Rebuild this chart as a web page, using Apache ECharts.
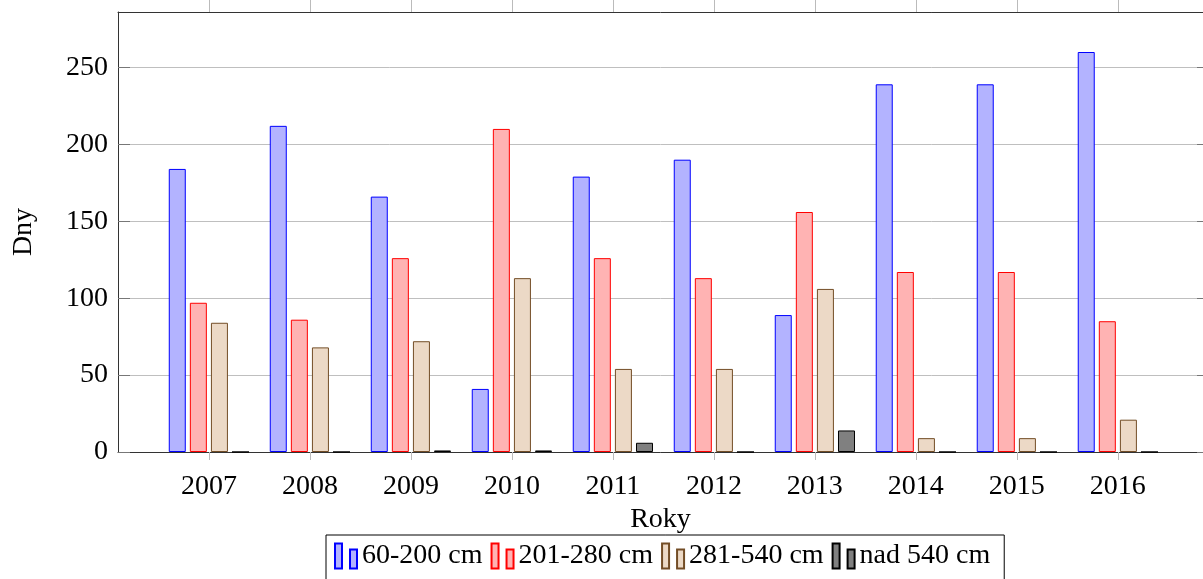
<!DOCTYPE html>
<html>
<head>
<meta charset="utf-8">
<script src="https://cdn.jsdelivr.net/npm/echarts@6/dist/echarts.min.js"></script>
<style>
  html, body { margin: 0; padding: 0; background: #fff; }
  #chart { width: 1203px; height: 579px; }
</style>
</head>
<body>
<div id="chart"></div>
<script>
const years = ["2007", "2008", "2009", "2010", "2011", "2012", "2013", "2014", "2015", "2016"];
const seriesNames = ["60-200 cm", "201-280 cm", "281-540 cm", "nad 540 cm"];
const band60to200 = [184, 212, 166, 41, 179, 190, 89, 239, 239, 260];
const band201to280 = [97, 86, 126, 210, 126, 113, 156, 117, 117, 85];
const band281to540 = [84, 68, 72, 113, 54, 54, 106, 9, 9, 21];
const bandOver540 = [0, 0, 1, 1, 6, 0, 14, 0, 0, 0];
const yTicks = [0, 50, 100, 150, 200, 250];

const font = "'Liberation Serif', 'DejaVu Serif', serif";
const fills = ["#b3b3ff", "#ffb3b3", "#ecd9c6", "#808080"];
const strokes = ["#0000ff", "#ff0000", "#734d26", "#000000"];
const values = [band60to200, band201to280, band281to540, bandOver540];
const yearPos = years.map((y, i) => i);

const chartDom = document.getElementById("chart");
const myChart = echarts.init(chartDom);

const xCommon = {
  type: "value",
  min: -0.9,
  max: 9.843,
  splitLine: { show: false },
};

const option = {
  animation: false,
  backgroundColor: "#fff",
  grid: {
    left: 118,
    right: 0,
    top: 12,
    bottom: 127,
    show: false,
  },
  legend: {
    data: seriesNames,
    left: 326,
    top: 535,
    padding: [7, 14, 20, 8],
    borderColor: "#000",
    borderWidth: 1,
    itemGap: 8,
    itemWidth: 22,
    itemHeight: 25,
    icon: "path://M0,0h7v25h-7zM15,6h7v19h-7z",
    selectedMode: false,
    textStyle: { fontFamily: font, fontSize: 28, color: "#000" },
  },
  xAxis: [
    Object.assign({}, xCommon, {
      position: "bottom",
      name: "Roky",
      nameLocation: "middle",
      nameGap: 47,
      nameTextStyle: { fontFamily: font, fontSize: 28, color: "#000" },
      axisLine: { show: true, onZero: false, lineStyle: { color: "#333", width: 1 } },
      axisTick: { show: true, inside: false, length: 8, customValues: yearPos, lineStyle: { color: "#bbb" } },
      axisLabel: {
        margin: 21,
        fontFamily: font,
        fontSize: 28,
        color: "#000",
        customValues: yearPos,
        formatter: (v) => (years[v] !== undefined ? years[v] : ""),
      },
    }),
    Object.assign({}, xCommon, {
      position: "top",
      axisLine: { show: true, onZero: false, lineStyle: { color: "#333", width: 1 } },
      axisTick: { show: true, inside: false, length: 12, customValues: yearPos, lineStyle: { color: "#bbb" } },
      axisLabel: { show: false },
    }),
  ],
  yAxis: [
    {
      type: "value",
      min: 0,
      max: 286,
      interval: 50,
      position: "left",
      name: "Dny",
      nameLocation: "middle",
      nameRotate: 90,
      nameGap: 80,
      nameTextStyle: { fontFamily: font, fontSize: 28, color: "#000" },
      axisLine: { show: true, onZero: false, lineStyle: { color: "#333", width: 1 } },
      axisTick: { show: true, inside: true, length: 12, customValues: yTicks, lineStyle: { color: "#777" } },
      splitLine: { show: true, lineStyle: { color: "#bfbfbf", width: 1 } },
      axisLabel: {
        margin: 10,
        fontFamily: font,
        fontSize: 28,
        color: "#000",
        customValues: yTicks,
      },
    },
    {
      type: "value",
      min: 0,
      max: 286,
      interval: 50,
      position: "right",
      axisLine: { show: false, onZero: false },
      axisTick: { show: true, inside: true, length: 6, customValues: yTicks, lineStyle: { color: "#777" } },
      splitLine: { show: false },
      axisLabel: { show: false },
    },
  ],
  series: seriesNames.map((name, k) => ({
    name: name,
    type: "bar",
    xAxisIndex: 0,
    yAxisIndex: 0,
    barWidth: 17,
    barGap: "24%",
    itemStyle: { color: fills[k], borderColor: strokes[k], borderWidth: 1 },
    data: values[k].map((v, i) => [i, v]),
    silent: true,
  })),
};

myChart.setOption(option);
</script>
</body>
</html>
